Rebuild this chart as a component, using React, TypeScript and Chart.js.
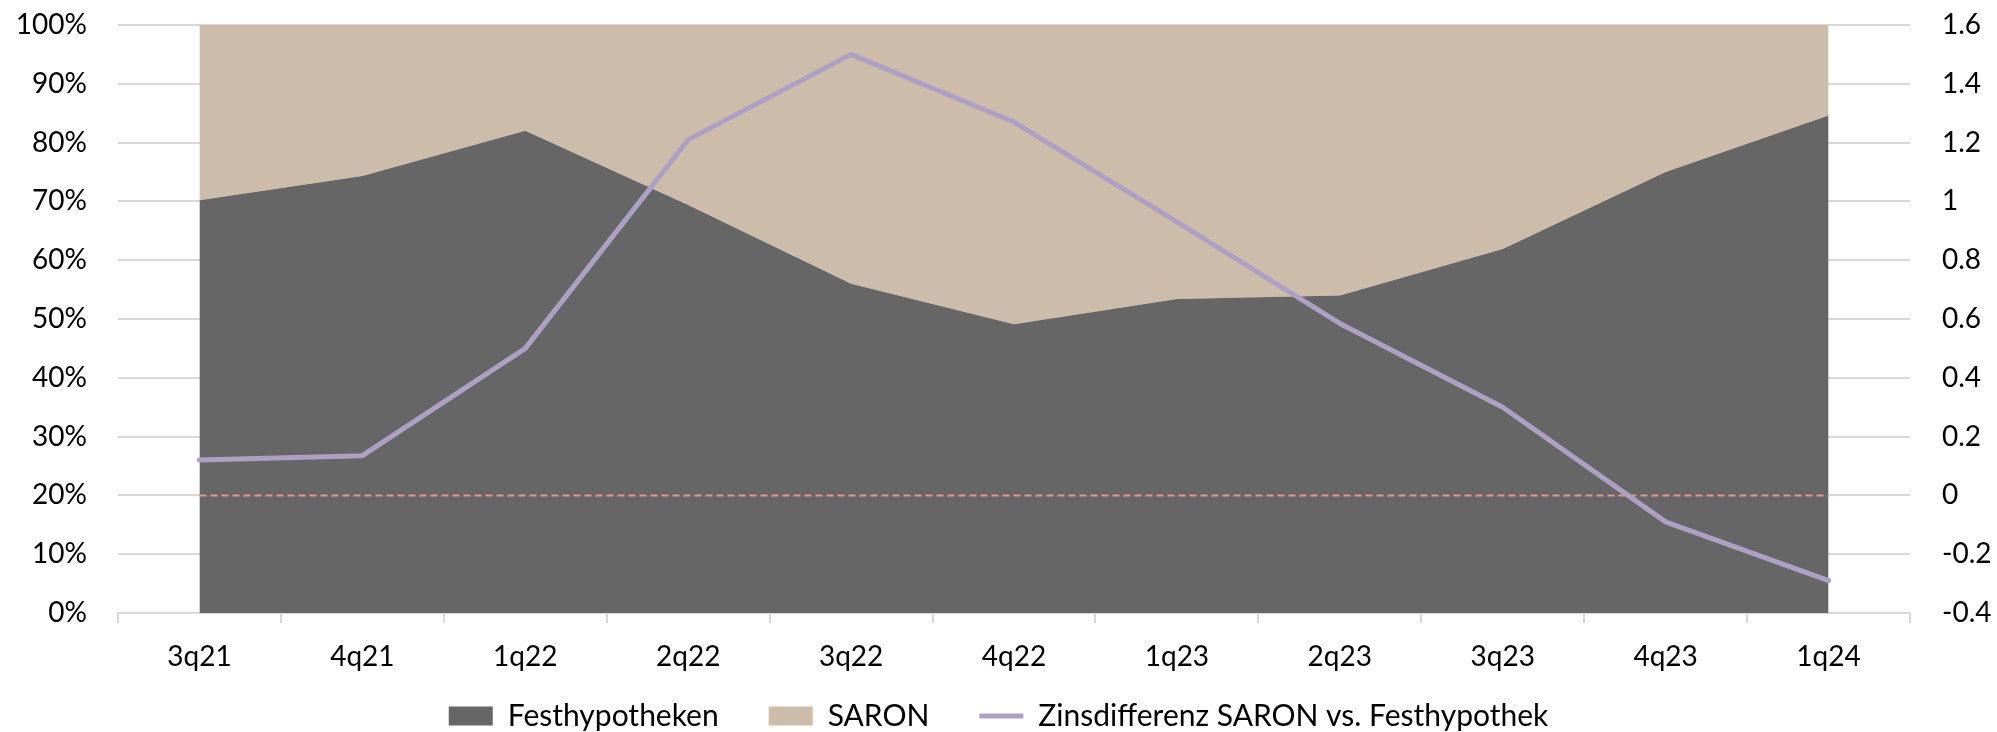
import React, { useEffect, useRef } from 'react';
import { Chart, registerables } from 'chart.js';

Chart.register(...registerables);

const categories = ['3q21', '4q21', '1q22', '2q22', '3q22', '4q22', '1q23', '2q23', '3q23', '4q23', '1q24'];
const festhypotheken = [70.2, 74.3, 82.0, 69.4, 56.0, 49.1, 53.4, 54.0, 61.9, 75.0, 84.6];
const saron = [29.8, 25.7, 18.0, 30.6, 44.0, 50.9, 46.6, 46.0, 38.1, 25.0, 15.4];
const zinsdifferenz = [0.12, 0.135, 0.5, 1.21, 1.5, 1.27, 0.93, 0.585, 0.3, -0.09, -0.29];
const nullLinie = [0, 0, 0, 0, 0, 0, 0, 0, 0, 0, 0];

const leftTickLabels = ['0%', '10%', '20%', '30%', '40%', '50%', '60%', '70%', '80%', '90%', '100%'];
const rightTickLabels = ['-0.4', '-0.2', '0', '0.2', '0.4', '0.6', '0.8', '1', '1.2', '1.4', '1.6'];

const FONT = 'Lato';
const TICK_SIZE = 28;
const LEGEND_SIZE = 30;
const LEGEND_PAD = 50;
const LEGEND_CENTER_Y = 716;
const X_AXIS_H = 62;
const LEGEND_H = 57;

const layoutFix = {
  id: 'layoutFix',
  beforeLayout(chart: any) {
    const lg = chart.legend;
    if (lg && !lg.__patched) {
      const orig = lg.fit.bind(lg);
      lg.fit = function () {
        orig();
        this.height = LEGEND_H;
      };
      lg.__patched = true;
    }
  },
  afterLayout(chart: any) {
    const lg = chart.legend;
    if (!lg) return;
    const itemH = Math.max(LEGEND_SIZE, 19);
    lg.top = LEGEND_CENTER_Y - LEGEND_PAD - itemH / 2;
    lg.bottom = chart.height;
    lg.height = lg.bottom - lg.top;
  },
};

export default function App() {
  const ref = useRef<HTMLCanvasElement | null>(null);

  useEffect(() => {
    if (!ref.current) return;
    const chart = new Chart(ref.current, {
      type: 'line',
      data: {
        labels: categories,
        datasets: [
          {
            label: 'Festhypotheken',
            data: festhypotheken,
            yAxisID: 'y',
            backgroundColor: '#666666',
            borderColor: '#666666',
            borderWidth: 0,
            fill: 'origin',
            pointRadius: 0,
            pointStyle: 'rect',
            tension: 0,
            order: 1,
          },
          {
            label: 'SARON',
            data: saron,
            yAxisID: 'y',
            backgroundColor: '#CDBCAA',
            borderColor: '#CDBCAA',
            borderWidth: 0,
            fill: '-1',
            pointRadius: 0,
            pointStyle: 'rect',
            tension: 0,
            order: 2,
          },
          {
            label: 'Zinsdifferenz SARON vs. Festhypothek',
            data: zinsdifferenz,
            yAxisID: 'y1',
            borderColor: '#ADA0C4',
            backgroundColor: '#ADA0C4',
            borderWidth: 5,
            fill: false,
            pointRadius: 0,
            pointStyle: 'line',
            tension: 0,
            borderJoinStyle: 'round',
            borderCapStyle: 'round',
            order: 0,
          },
          {
            label: 'null',
            data: nullLinie,
            yAxisID: 'y1',
            borderColor: '#E8948F',
            backgroundColor: '#E8948F',
            borderWidth: 2,
            borderDash: [7, 4],
            fill: false,
            pointRadius: 0,
            tension: 0,
            order: 0.5,
          },
        ],
      },
      plugins: [layoutFix],
      options: {
        animation: false,
        responsive: true,
        maintainAspectRatio: false,
        layout: { padding: { top: 25, left: 0, right: 0, bottom: 0 } },
        plugins: {
          tooltip: { enabled: false },
          legend: {
            position: 'bottom',
            labels: {
              usePointStyle: true,
              pointStyleWidth: 44,
              boxHeight: 19,
              padding: LEGEND_PAD,
              color: '#000000',
              font: { family: FONT, size: LEGEND_SIZE },
              filter: (item: any) => item.datasetIndex !== 3,
              sort: (a: any, b: any) => a.datasetIndex - b.datasetIndex,
            },
          },
        },
        scales: {
          x: {
            type: 'category',
            offset: true,
            afterFit: (s: any) => {
              s.height = X_AXIS_H;
            },
            grid: {
              offset: true,
              drawOnChartArea: false,
              drawTicks: true,
              tickLength: 10,
              color: '#D9D9D9',
              lineWidth: 2,
            },
            border: { display: true, color: '#D9D9D9', width: 2 },
            ticks: {
              color: '#000000',
              font: { family: FONT, size: TICK_SIZE },
              padding: 17,
              maxRotation: 0,
              autoSkip: false,
            },
          },
          y: {
            type: 'linear',
            position: 'left',
            stacked: true,
            min: 0,
            max: 100,
            afterFit: (s: any) => {
              s.width = 118;
            },
            grid: {
              color: '#D9D9D9',
              lineWidth: 2,
              drawTicks: true,
              tickLength: 31,
              tickColor: 'rgba(0,0,0,0)',
            },
            border: { display: false },
            ticks: {
              stepSize: 10,
              padding: 0,
              color: '#000000',
              font: { family: FONT, size: TICK_SIZE },
              callback: (v: any) => leftTickLabels[Math.round(Number(v) / 10)] ?? '',
            },
          },
          y1: {
            type: 'linear',
            position: 'right',
            min: -0.4,
            max: 1.6,
            afterFit: (s: any) => {
              s.width = 87;
            },
            grid: {
              drawOnChartArea: false,
              drawTicks: true,
              tickLength: 32,
              tickColor: 'rgba(0,0,0,0)',
            },
            border: { display: false },
            ticks: {
              stepSize: 0.2,
              padding: 0,
              color: '#000000',
              font: { family: FONT, size: TICK_SIZE },
              callback: (v: any) => rightTickLabels[Math.round((Number(v) + 0.4) / 0.2)] ?? '',
            },
          },
        },
      },
    });
    return () => chart.destroy();
  }, []);

  return (
    <div style={{ position: 'fixed', left: 0, top: 0, width: 1997, height: 732, background: '#fff' }}>
      <canvas ref={ref} />
    </div>
  );
}
